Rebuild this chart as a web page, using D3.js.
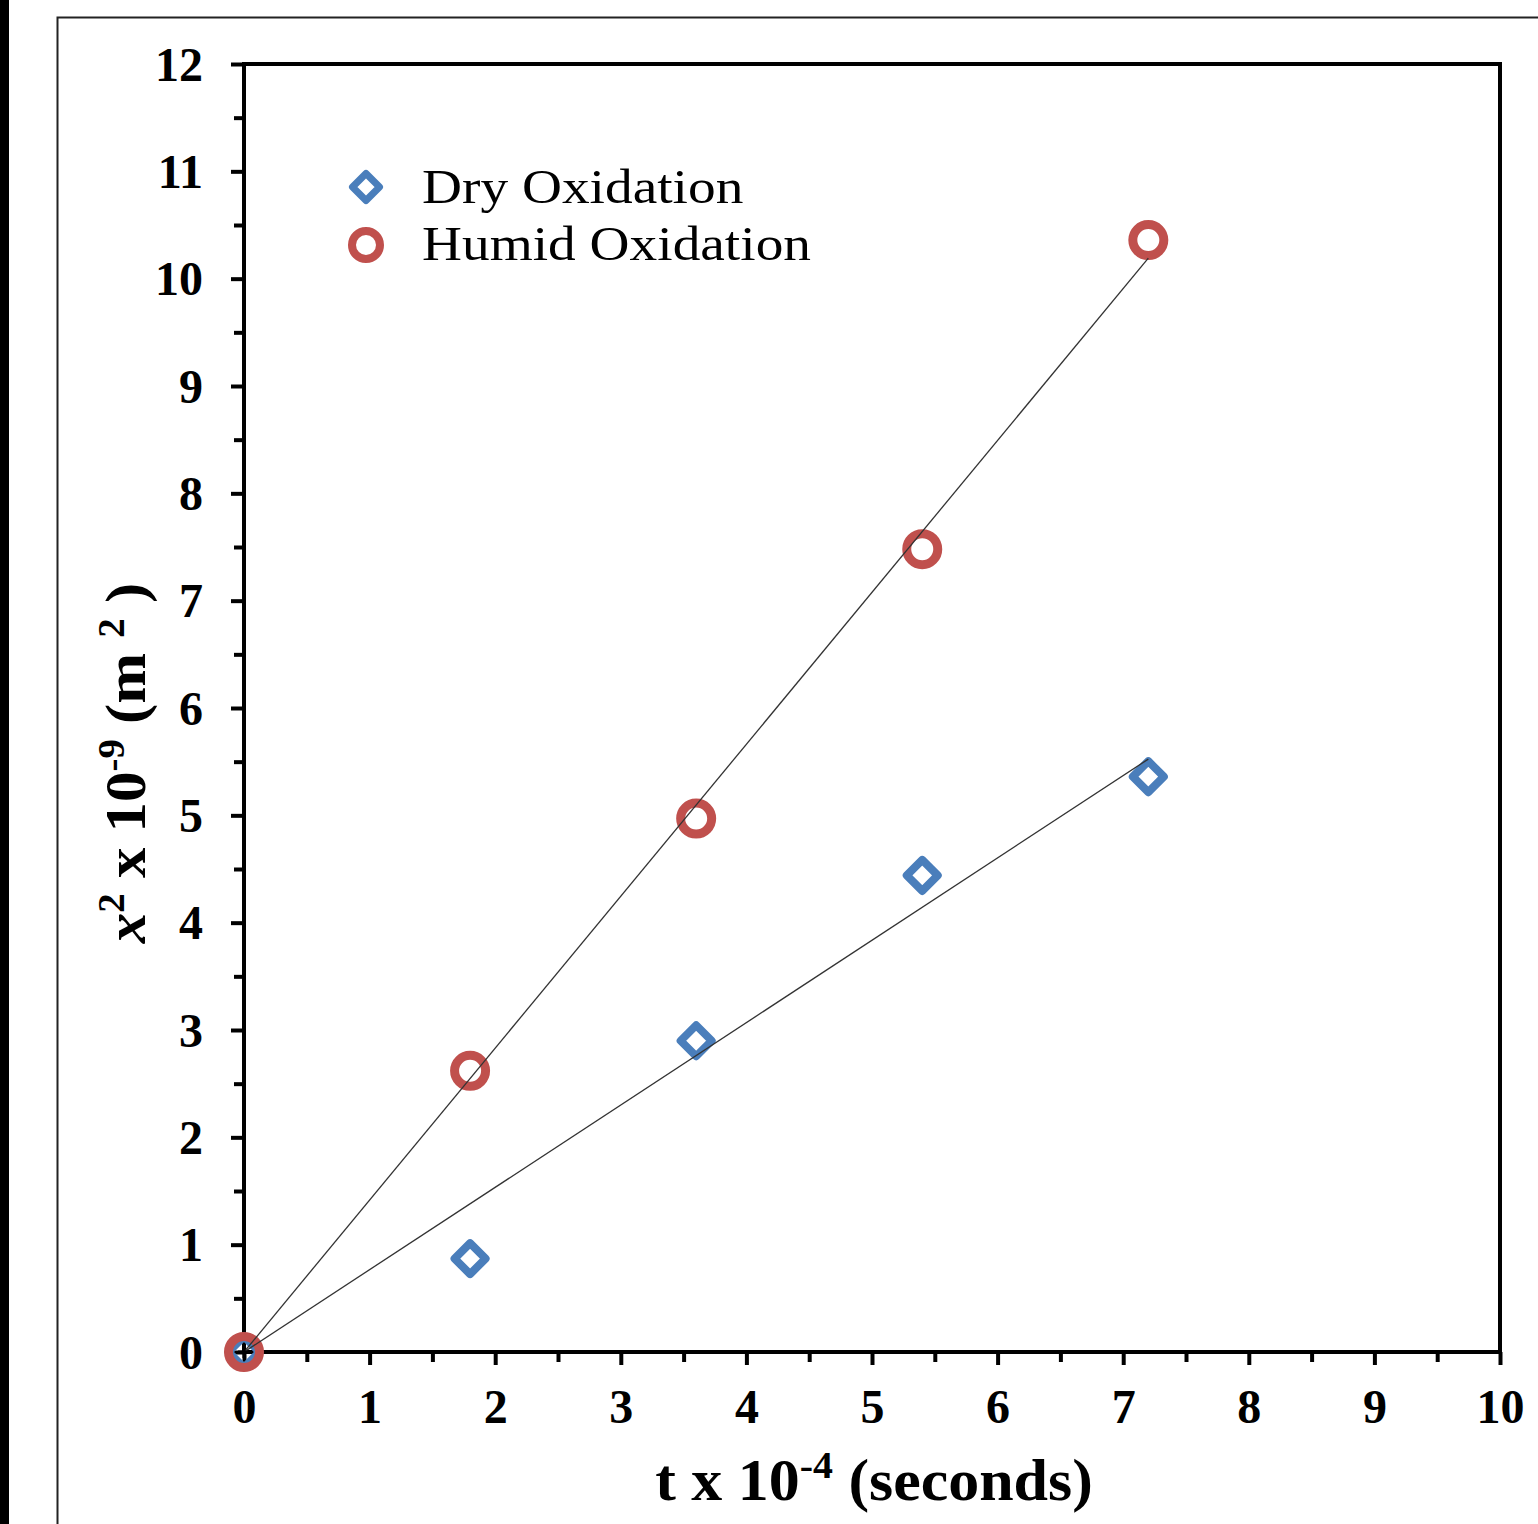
<!DOCTYPE html>
<html>
<head>
<meta charset="utf-8">
<script src="https://cdn.jsdelivr.net/npm/d3@7"></script>
<style>
  body { margin: 0; background: #fff; }
  text { font-family: "Liberation Serif", "Times New Roman", serif; }
</style>
</head>
<body>
<script>
const W = 1538, H = 1524;
const margin = { top: 64, right: 38, bottom: 172, left: 244 },
    width = 1500 - margin.left,
    height = 1352 - margin.top;

// data (t in 1e4 s, x^2 in 1e-9 m^2)
const times = [0, 1.8, 3.6, 5.4, 7.2];
const dryValues = [0, 0.87, 2.90, 4.44, 5.36];
const humidValues = [0, 2.62, 4.97, 7.48, 10.36];
const seriesNames = ["Dry Oxidation", "Humid Oxidation"];
const xTicks = [0, 1, 2, 3, 4, 5, 6, 7, 8, 9, 10];
const yTicks = [0, 1, 2, 3, 4, 5, 6, 7, 8, 9, 10, 11, 12];

const blue = "#4a7ebb", red = "#c0504d";

const xScale = d3.scaleLinear().domain([0, 10]).range([0, width]);
const yScale = d3.scaleLinear().domain([0, 12]).range([height, 0]);

const svg = d3.select("body").append("svg")
    .attr("width", W)
    .attr("height", H);

// black strip and outer frame
svg.append("rect").attr("x", 0).attr("y", 0).attr("width", 9).attr("height", H).attr("fill", "#000");
svg.append("path")
    .attr("d", "M57.5," + H + "V17.5H" + W)
    .attr("fill", "none")
    .attr("stroke", "#222")
    .attr("stroke-width", 2);

const g = svg.append("g")
    .attr("transform", "translate(" + margin.left + "," + margin.top + ")");

// minor ticks
const halves = d => d3.range(0.5, d, 1);
g.append("g")
    .attr("transform", "translate(0," + height + ")")
    .call(d3.axisBottom(xScale).tickValues(halves(10)).tickSize(10).tickSizeOuter(0).tickFormat(""));
g.append("g")
    .call(d3.axisLeft(yScale).tickValues(halves(12)).tickSize(10).tickSizeOuter(0).tickFormat(""));

// major ticks
const xAxis = g.append("g")
    .attr("transform", "translate(0," + height + ")")
    .call(d3.axisBottom(xScale).tickValues(xTicks).tickSize(13).tickSizeOuter(0).tickPadding(23));
const yAxis = g.append("g")
    .call(d3.axisLeft(yScale).tickValues(yTicks).tickSize(13).tickSizeOuter(0).tickPadding(28));

g.selectAll(".domain").remove();
g.selectAll(".tick line").attr("stroke", "#000").attr("stroke-width", 4);
g.selectAll(".tick text")
    .attr("fill", "#000")
    .style("font-family", "'Liberation Serif', serif")
    .style("font-weight", "bold")
    .style("font-size", "48px");
xAxis.selectAll(".tick text").attr("dy", "0.72em");
yAxis.selectAll(".tick text").attr("dy", "0.34em");

// plot frame
g.append("rect")
    .attr("x", 0).attr("y", 0)
    .attr("width", width).attr("height", height)
    .attr("fill", "none")
    .attr("stroke", "#000")
    .attr("stroke-width", 4);

// markers
const diamond = (cx, cy, r) => "M" + cx + "," + (cy - r) + "L" + (cx + r) + "," + cy +
    "L" + cx + "," + (cy + r) + "L" + (cx - r) + "," + cy + "Z";

g.selectAll("path.dry")
    .data(times)
    .enter().append("path")
    .attr("class", "dry")
    .attr("d", (d, i) => diamond(xScale(d), yScale(dryValues[i]), 15.5))
    .attr("fill", "none")
    .attr("stroke", blue)
    .attr("stroke-width", 8)
    .attr("stroke-linejoin", "round");

g.selectAll("circle.humid")
    .data(times)
    .enter().append("circle")
    .attr("class", "humid")
    .attr("cx", d => xScale(d))
    .attr("cy", (d, i) => yScale(humidValues[i]))
    .attr("r", 15.5)
    .attr("fill", "none")
    .attr("stroke", red)
    .attr("stroke-width", 9);

// least-squares trend lines through the origin
const slope = ys => d3.sum(times, (t, i) => t * ys[i]) / d3.sum(times, t => t * t);
const tEnd = d3.max(times);
[dryValues, humidValues].forEach(ys => {
    const k = slope(ys);
    g.append("line")
        .attr("x1", xScale(0)).attr("y1", yScale(0))
        .attr("x2", xScale(tEnd)).attr("y2", yScale(k * tEnd))
        .attr("stroke", "#333")
        .attr("stroke-width", 1.3);
});

// origin cross
g.append("path")
    .attr("d", "M" + (xScale(0) - 6) + "," + yScale(0) + "h12M" + xScale(0) + "," + (yScale(0) - 6) + "v12")
    .attr("stroke", "#000")
    .attr("stroke-width", 3);

// legend
const legend = g.append("g").attr("transform", "translate(" + (366 - margin.left) + "," + (187 - margin.top) + ")");
legend.append("path")
    .attr("d", diamond(0, 0, 13.5))
    .attr("fill", "none").attr("stroke", blue).attr("stroke-width", 7).attr("stroke-linejoin", "round");
legend.append("circle")
    .attr("cx", 0).attr("cy", 58).attr("r", 14)
    .attr("fill", "none").attr("stroke", red).attr("stroke-width", 8);
legend.selectAll("text")
    .data(seriesNames)
    .enter().append("text")
    .attr("transform", (d, i) => "translate(56," + (16 + i * 57) + ") scale(1.13,1)")
    .style("font-size", "49px")
    .text(d => d);

// axis titles
const xTitle = svg.append("text")
    .attr("transform", "translate(874,1500) scale(1.05,1)")
    .attr("text-anchor", "middle")
    .style("font-size", "59px")
    .style("font-weight", "bold");
xTitle.append("tspan").text("t x 10");
xTitle.append("tspan").attr("dy", -22).style("font-size", "38px").text("-4");
xTitle.append("tspan").attr("dy", 22).text(" (seconds)");

const yTitle = svg.append("text")
    .attr("transform", "translate(145,763) rotate(-90) scale(1.05,1)")
    .attr("text-anchor", "middle")
    .style("font-size", "58px")
    .style("font-weight", "bold");
yTitle.append("tspan").style("font-style", "italic").text("x");
yTitle.append("tspan").attr("dy", -21).style("font-size", "37px").text("2");
yTitle.append("tspan").attr("dy", 21).text(" x 10");
yTitle.append("tspan").attr("dy", -21).style("font-size", "37px").text("-9");
yTitle.append("tspan").attr("dy", 21).text(" (m ");
yTitle.append("tspan").attr("dy", -21).style("font-size", "37px").text("2");
yTitle.append("tspan").attr("dy", 21).text(" )");
</script>
</body>
</html>
